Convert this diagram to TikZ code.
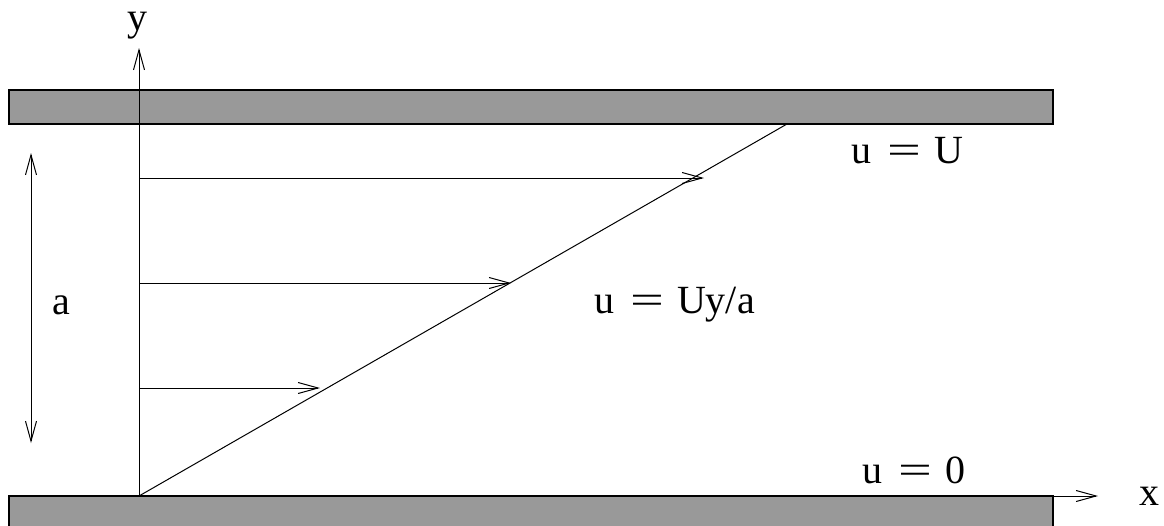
\documentclass[tikz,border=0pt]{standalone}
\usepackage{fontspec}
\setmainfont{Liberation Serif}
\usetikzlibrary{arrows.meta}
\newcommand{\myeq}{\hspace{16pt}\scalebox{1.5}[1]{=}\hspace{13pt}}
\begin{document}
\begin{tikzpicture}[x=1pt,y=-1pt,
  plate/.style={draw=black,fill=black!40,line width=1.2pt},
  ln/.style={draw=black,line width=1pt},
  tip/.tip={Straight Barb[length=20pt,width=11pt,line width=1pt]},
  arr/.style={ln,-tip},
  lbl/.style={font=\fontsize{40}{40}\selectfont,inner sep=0pt,anchor=base west}]
\useasboundingbox (0,0) rectangle (1164,525);
% plates
\draw[plate] (9,90) rectangle (1053,124);
\draw[plate] (9,496) rectangle (1053,540);
% coordinates
\coordinate (O) at (139,496);
\coordinate (Ytop) at (139,48);
\coordinate (Xend) at (1098,496);
\coordinate (T) at (787,124);
\coordinate (a1) at (31,153);
\coordinate (a2) at (31,443);
\coordinate (s1) at (139,178); \coordinate (e1) at (704,178);
\coordinate (s2) at (139,283); \coordinate (e2) at (511,283);
\coordinate (s3) at (139,388); \coordinate (e3) at (320,388);
% axes
\draw[arr] (O) -- (Ytop);
\draw[arr] (O) -- (Xend);
\node[lbl,text height=0.45em] (ylab) at (127,30) {y};
\node[lbl] (xlab) at (1139,505) {x};
% profile
\draw[ln] (O) -- (T);
\draw[arr] (s1) -- (e1);
\draw[arr] (s2) -- (e2);
\draw[arr] (s3) -- (e3);
% gap
\draw[ln,tip-tip] (a1) -- (a2);
\node[lbl] (alab) at (52,314) {a};
% labels
\node[lbl] (uU) at (851,163) {u\myeq U};
\node[lbl] (uy) at (594,313) {u\myeq Uy/a};
\node[lbl] (u0) at (862,483) {u\myeq 0};
\end{tikzpicture}
\end{document}
